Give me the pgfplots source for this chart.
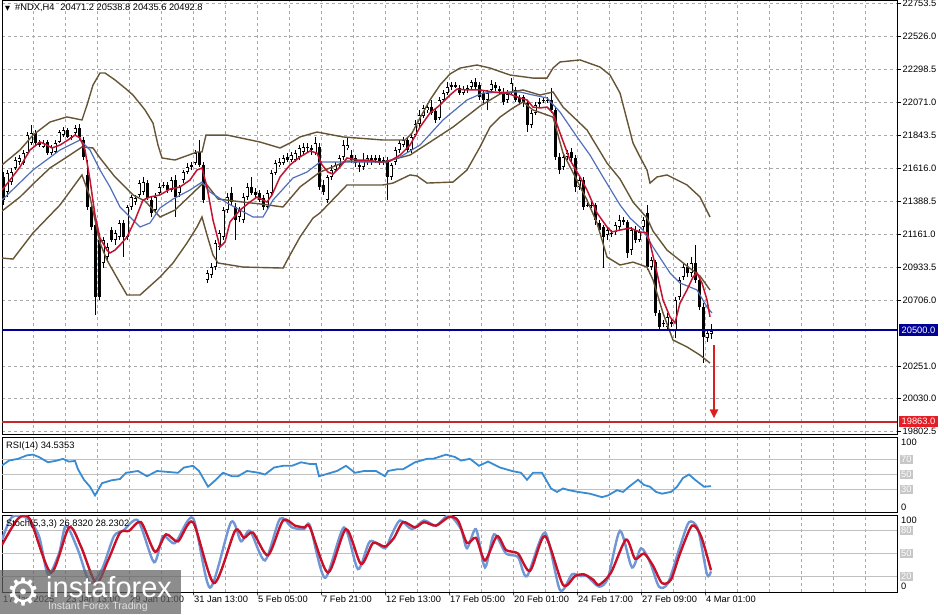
\documentclass[border=0pt]{standalone}
\usepackage{pgfplots}
\pgfplotsset{compat=1.18}
\usepackage{pgfplotstable}
\usepackage{fontspec}
\setmainfont{Liberation Sans}
\newfontfamily\dejavu{DejaVu Sans}
\usetikzlibrary{arrows.meta}
\newcommand\tickfont{\fontsize{9.3}{10}\selectfont}

\definecolor{bbbrown}{RGB}{102,84,52}
\definecolor{mared}{RGB}{196,18,48}
\definecolor{mablue}{RGB}{80,112,188}
\definecolor{rsiblue}{RGB}{58,140,210}
\definecolor{stochK}{RGB}{112,150,212}
\definecolor{stochD}{RGB}{200,16,40}
\definecolor{navyline}{RGB}{0,0,150}
\definecolor{redline}{RGB}{196,40,40}
\definecolor{boxred}{RGB}{228,30,36}
\definecolor{arrowred}{RGB}{220,30,30}
\definecolor{gridgray}{RGB}{170,170,170}
\definecolor{levelgray}{RGB}{192,192,192}

\pgfplotstableread{
i o h l c
0 21554 21588 21361 21395
1 21450 21602 21416 21581
2 21519 21616 21499 21588
3 21616 21692 21602 21671
4 21657 21705 21637 21685
5 21650 21740 21637 21719
6 21719 21864 21705 21843
7 21788 21912 21774 21857
8 21857 21878 21774 21788
9 21795 21809 21761 21774
10 21761 21809 21754 21788
11 21795 21809 21705 21719
12 21719 21774 21705 21761
13 21726 21809 21719 21788
14 21795 21878 21788 21864
15 21843 21898 21830 21878
16 21878 21892 21823 21830
17 21830 21843 21809 21826
18 21857 21912 21843 21892
19 21892 21919 21809 21830
20 21809 21830 21671 21692
21 21568 21671 21326 21347
22 21347 21361 21188 21209
23 21223 21244 20602 20726
24 21119 21168 20706 20726
25 20961 21140 20926 21119
26 21002 21099 20967 21071
27 21188 21209 21106 21119
28 21119 21188 21085 21168
29 21140 21257 21119 21237
30 21237 21257 21002 21140
31 21140 21361 21119 21347
32 21347 21430 21326 21416
33 21381 21430 21361 21409
34 21430 21533 21416 21512
35 21450 21554 21430 21519
36 21512 21533 21395 21409
37 21395 21416 21278 21306
38 21326 21443 21306 21416
39 21443 21512 21430 21485
40 21499 21519 21478 21492
41 21499 21519 21443 21464
42 21464 21554 21450 21533
43 21533 21568 21278 21416
44 21443 21499 21416 21485
45 21533 21602 21512 21588
46 21588 21650 21574 21623
47 21623 21657 21602 21637
48 21650 21740 21637 21719
49 21726 21809 21623 21637
50 21637 21657 21375 21395
51 20844 20912 20823 20892
52 20878 20961 20857 20933
53 20933 21119 20912 21099
54 21071 21188 21050 21168
55 21140 21347 21119 21326
56 21326 21443 21306 21416
57 21443 21485 21361 21381
58 21347 21375 21119 21257
59 21278 21347 21244 21326
60 21257 21443 21237 21416
61 21416 21512 21395 21485
62 21485 21554 21430 21443
63 21450 21478 21409 21430
64 21443 21464 21381 21395
65 21409 21430 21326 21347
66 21347 21464 21326 21443
67 21443 21602 21430 21581
68 21581 21671 21568 21650
69 21637 21685 21623 21657
70 21650 21705 21637 21685
71 21692 21719 21657 21671
72 21671 21726 21657 21705
73 21671 21740 21657 21719
74 21692 21774 21671 21754
75 21726 21788 21705 21761
76 21761 21788 21726 21754
77 21754 21774 21705 21740
78 21719 21830 21705 21788
79 21761 21788 21464 21485
80 21499 21533 21430 21450
81 21395 21568 21375 21554
82 21554 21637 21533 21602
83 21602 21657 21588 21637
84 21637 21705 21623 21685
85 21692 21809 21671 21774
86 21754 21830 21740 21774
87 21705 21740 21650 21671
88 21685 21705 21623 21650
89 21637 21671 21588 21623
90 21623 21719 21602 21671
91 21657 21705 21637 21685
92 21685 21705 21637 21657
93 21671 21705 21650 21685
94 21685 21705 21637 21657
95 21671 21692 21637 21657
96 21671 21692 21395 21554
97 21554 21650 21533 21637
98 21657 21761 21637 21740
99 21740 21809 21719 21788
100 21774 21830 21761 21809
101 21809 21830 21719 21740
102 21740 21857 21719 21830
103 21843 21947 21830 21919
104 21919 22016 21898 21981
105 21974 22050 21961 22030
106 22016 22064 21995 22036
107 22036 22085 21981 21995
108 22009 22030 21926 21947
109 21961 22105 21947 22085
110 22085 22154 22071 22133
111 22133 22209 22119 22174
112 22174 22209 22154 22188
113 22188 22209 22167 22181
114 22167 22188 22119 22133
115 22133 22181 22119 22160
116 22154 22188 22133 22167
117 22174 22223 22154 22209
118 22209 22236 22154 22174
119 22188 22209 22085 22105
120 22133 22154 22064 22085
121 22085 22154 22016 22133
122 22154 22223 22133 22195
123 22188 22209 22147 22167
124 22160 22181 22119 22147
125 22140 22167 22050 22071
126 22085 22154 22064 22126
127 22133 22236 22119 22202
128 22154 22174 22071 22085
129 22099 22119 22050 22071
130 22105 22119 22036 22064
131 22064 22085 21864 21912
132 21912 22016 21892 21995
133 21995 22071 21981 22050
134 22064 22099 22036 22071
135 22078 22105 22064 22085
136 22085 22105 22064 22078
137 22085 22167 21995 22016
138 22016 22036 21671 21692
139 21692 21719 21574 21602
140 21623 21719 21602 21692
141 21692 21740 21671 21719
142 21726 21754 21657 21685
143 21685 21705 21450 21485
144 21485 21568 21464 21533
145 21533 21554 21326 21347
146 21361 21375 21347 21357
147 21361 21381 21340 21357
148 21361 21375 21223 21257
149 21237 21257 21168 21188
150 21209 21223 20926 21140
151 21154 21209 21119 21188
152 21168 21188 21140 21164
153 21175 21244 21154 21223
154 21209 21292 21188 21257
155 21257 21278 21223 21250
156 21244 21257 20995 21030
157 21050 21209 21016 21188
158 21188 21216 21099 21119
159 21119 21195 21106 21175
160 21209 21278 21188 21257
161 21306 21361 20912 20933
162 20933 21002 20912 20981
163 20967 20981 20595 20616
164 20616 20637 20499 20520
165 20547 20568 20520 20544
166 20520 20616 20499 20589
167 20554 20582 20520 20540
168 20499 20726 20444 20706
169 20726 20864 20706 20844
170 20864 20961 20844 20933
171 20933 20961 20864 20892
172 20892 21002 20864 20961
173 20961 21085 20823 20844
174 20844 20864 20637 20657
175 20657 20685 20271 20451
176 20444 20499 20416 20478
177 20471.2 20538.8 20435.6 20492.8
}\candles

\pgfplotstableread{
i p
-0.25 21464
1.75 21533
4.25 21623
6.75 21740
9.25 21795
11 21774
12.25 21754
14.25 21774
16.25 21809
18 21843
19.25 21823
20.5 21740
21.75 21533
23 21292
24.25 21133
26 21050
26.75 21030
28 21050
29.25 21085
31 21140
33 21257
35 21395
36.75 21416
39.25 21430
41.75 21471
44.25 21485
46.75 21533
48.5 21602
49.75 21616
51 21485
52.5 21257
54.25 21071
55.5 21106
56.75 21244
59.25 21326
61.75 21381
63.5 21416
65 21395
66 21381
67.25 21430
69.25 21554
71.75 21637
74.25 21692
76.75 21733
78.5 21719
79.75 21637
81.25 21588
82.5 21574
84.25 21623
86 21685
88.5 21671
91 21671
94.25 21657
96.75 21664
99.25 21705
101.75 21774
104.25 21898
106.75 21995
109.25 22050
111.75 22119
113.5 22160
116 22154
119.25 22154
122.5 22140
126 22133
129.25 22099
131 22085
132.5 22036
134.25 22030
136 22036
137.5 21995
139.25 21857
141.75 21671
144.25 21554
146 21464
148.5 21306
151 21209
152.25 21175
154.25 21188
156.75 21202
159.25 21175
161 21168
161.75 21099
163.5 20892
165 20706
166.75 20589
168 20547
169.25 20685
171 20775
172.5 20864
173.5 20892
174.75 20823
176 20706
176.75 20589
}\mared

\pgfplotstableread{
i p
-0.25 21395
7.5 21602
14.25 21740
19.25 21809
21.75 21740
24.25 21602
26.75 21485
29.25 21347
32.5 21257
34.25 21209
36.75 21237
39.25 21340
42.5 21402
46.75 21464
49.75 21519
51.75 21450
56 21375
59.25 21326
62.5 21278
65 21278
67.5 21395
72.5 21547
76 21588
79.25 21657
84.25 21657
91 21657
96 21657
99.25 21692
104.25 21774
110 21947
116 22085
120 22133
126.75 22140
129.25 22140
132.5 22119
136 22099
139.25 22002
143.5 21830
146.75 21705
150 21554
154.25 21361
156.75 21271
160 21188
162.5 21071
166.75 20892
169.25 20823
171.75 20795
173.5 20775
176 20657
177.25 20616
}\mablue

\pgfplotstableread{
i p
-0.25 21637
4.25 21740
7.5 21843
11.75 21933
16 21968
19.75 21947
21 22050
22.5 22188
24.25 22271
25.5 22271
28 22223
30.5 22167
32.5 22119
35.5 22016
37.5 21926
38.75 21774
39.75 21685
43 21671
48.5 21726
49.75 21726
50.75 21843
56 21843
64.25 21795
69.25 21754
71.75 21788
74.25 21830
78.5 21864
85 21830
95 21809
100.5 21809
102.25 21857
104.25 21961
106.75 22085
109.25 22188
111.75 22264
114.25 22305
118.5 22326
121.75 22305
126.75 22257
132.5 22236
136 22236
137.5 22305
139.25 22347
144.25 22361
149.25 22312
151.75 22257
154.25 22133
156 21947
157.5 21788
159.25 21692
161 21602
161.75 21512
163.5 21554
166 21568
171 21499
174.25 21416
176.75 21278
}\bbup

\pgfplotstableread{
i p
-0.25 21319
4.25 21416
7.5 21505
11.75 21616
16 21692
19.75 21761
22.5 21754
24.25 21685
28 21554
32.5 21430
35.5 21388
39.25 21278
43 21326
48.5 21471
49.75 21505
51 21499
53.75 21402
60 21381
64.25 21368
70 21347
74.25 21485
79.25 21588
86 21664
95 21657
101.75 21705
106 21781
112.5 21898
119.25 22043
124.25 22126
130 22154
134.25 22119
137.5 22140
140 22036
146 21878
151 21650
154.25 21540
157.5 21381
161 21271
162.5 21181
166 21050
171 20940
174.25 20871
176.75 20775
}\bbmid

\pgfplotstableread{
i p
-0.25 20995
2.5 20988
7.5 21168
14.25 21361
19.75 21568
21.75 21416
24.25 21099
26 20981
29.25 20823
31 20740
34.25 20740
39.25 20864
42.5 20961
46 21099
48.5 21209
49.75 21278
51 21154
52.5 21016
53.75 20961
60 20933
70 20926
71.75 21016
74.25 21140
77.5 21271
79.25 21306
86 21499
95 21499
97.5 21512
101.75 21568
103.5 21561
106 21512
112.5 21519
116 21602
119.25 21761
121.75 21898
124.25 21967
127.5 22030
130 22071
132.5 22016
137.5 21967
140 21719
146 21395
148.5 21237
151 21002
154.25 20947
157.5 20967
161 20933
162.5 20844
165 20616
167.5 20430
171 20382
174.25 20326
176.75 20271
}\bblow

\pgfplotstableread{
i v
-0.25 62
1.5 68.6
3.75 70.9
6 75.6
7.5 76.5
9 73.3
11.25 66.3
13.5 68.6
15 70.9
16.5 67.2
18 68.1
18.75 57
20.25 43
21.75 33.7
23 22.1
24.75 38.4
27 42.1
29.25 44
30.75 52.3
33.75 54.7
36 47.7
38.5 54.7
41.5 53.3
43.75 52.3
45.25 59.3
47.5 61.6
49 54.7
51.25 33.7
52.75 40.7
55 52.3
57.25 47.7
58.75 47.7
61 54.7
64 52.3
65.5 50
67.75 59.3
70 61.6
72.25 61.6
74.5 66.3
76.75 64
78.25 64
79 47.7
80.5 50
83.5 54.7
85.75 61.6
88 52.3
90.25 54.7
93.25 54.7
95.5 47.7
96.25 54.7
98.5 57
100 57
103 66.3
104.5 68.6
106 70.9
107.5 70.9
110.75 76.5
113 73.3
114.5 68.6
116.75 70.9
119 61.6
121.25 67.2
124.25 59.3
127.25 54.7
129.5 52.3
131 43
132.5 52.3
134.75 52.3
137 31.4
138.5 26.8
140 31.4
141.5 29.1
143.75 26.8
146.75 24.4
149.75 19.8
151.25 22.1
153.5 29.1
155 26.8
156.5 33.7
158.75 43
160.25 36.1
161.75 33.7
163.25 26.8
164.75 24.4
167 26.8
168.5 33.7
170 45.4
171.5 50
173 43
175.25 33.7
177 34.5
}\rsi

\pgfplotstableread{
i v
-0.25 68
2.25 97.5
6 96
9 72.6
11.25 22.9
14 50
15.75 86.2
18.75 54.5
21.75 11.6
24.75 29.7
27.75 72.6
30 79.4
33.75 92.9
37.75 38.7
40 72.6
43 63.6
47.5 96.1
51.75 5.7
57 90.7
59.5 65.8
61.75 79.4
65.5 41
69.25 95.2
72.25 83.9
75.25 81.6
76.75 86.2
80.5 18.4
85.25 83.9
88.75 29.7
91.75 65.8
95.5 56.8
97 72.6
99.25 92.9
102.25 81.6
105.25 92.9
108.25 86.2
111.5 99.7
114.5 81.6
116 56.8
118.25 81.6
120.5 31.9
122.75 74.9
125.75 50
128.75 45.5
131 20.6
135.5 77.1
139.25 2.5
142.25 22.9
144.5 20.6
146 20.6
149 7
151.25 18.4
154.25 79.4
157.25 31.9
159.5 56.8
161.75 38.7
164 7
166.25 11.6
169.25 59
171.5 90.7
173.75 81.6
176 22.9
177 26.8
}\stk

\pgfplotstableread{
i v
-0.25 61.3
3.75 95.2
6.75 94.3
12 25.1
16.5 83.9
19.5 59
23.25 11.6
26.25 41
29.25 77.1
31.5 79.4
34.5 90.7
38 52.3
40.75 74.9
43.75 65.8
47.5 90.7
52.75 11.6
58 79.4
60.25 70.3
62.5 77.1
66.25 47.7
70 92.9
73 86.2
75.25 83.9
76.75 83.9
81.25 25.1
85.75 81.6
89.5 36.4
92.5 63.6
95.5 59
97.75 70.3
100 90.7
103 83.9
105.25 90.7
108.25 86.2
111.5 97.5
113.75 92.9
116 63.6
118.25 70.3
120.5 41
123.5 72.6
125.75 54.5
128.75 50
131.75 27.4
135.5 72.6
140 9.3
143 20.6
145.25 22.9
147.5 16.1
149 9.3
152 25.1
155.75 68.1
158 43.2
160.25 50
162.5 34.2
164.75 11.6
167 16.1
169.25 50
172.25 86.2
174.5 72.6
177 28.2
}\std

\pgfplotsset{
  panel/.style={
    scale only axis, width=895pt, anchor=north west,
    xmin=-0.25, xmax=223.5,
    clip mode=individual,
    axis line style={black, line width=0.8pt},
    xtick={7.5,15.5,...,215.5}, xticklabels={},
    x tick style={draw=none},
    xmajorgrids,
    major grid style={gridgray, dash pattern=on 3pt off 3pt, line width=0.5pt},
  }
}

\begin{document}
\begin{tikzpicture}
\useasboundingbox (0pt,0pt) rectangle (944pt,-614pt);

% ---------------- main price panel ----------------
\begin{axis}[panel, at={(2pt,0pt)}, height=434pt,
  ymin=19781.8, ymax=22774.2,
  ytick={22753.5,22526,22298.5,22071,21843.5,21616,21388.5,21161,20933.5,20706,20251,20030,19802.5},
  yticklabels={22753.5,22526.0,22298.5,22071.0,21843.5,21616.0,21388.5,21161.0,20933.5,20706.0,20251.0,20030.0,19802.5},
  ymajorgrids, ytick pos=right, yticklabel pos=right,
  tick align=outside, major tick length=3.5pt,
  y tick style={black, line width=0.6pt},
  yticklabel style={font=\tickfont, inner sep=2pt},
]
% wicks
\addplot[draw=none, error bars/.cd, y dir=both, y explicit, error mark=none,
  error bar style={draw=black, line width=0.9pt}]
  table[x=i, y expr={(\thisrow{h}+\thisrow{l})/2}, y error expr={(\thisrow{h}-\thisrow{l})/2}] {\candles};
% bodies
\addplot[draw=none, error bars/.cd, y dir=both, y explicit, error mark=none,
  error bar style={draw=black, line width=3pt}]
  table[x=i, y expr={(\thisrow{o}+\thisrow{c})/2}, y error expr={max(abs(\thisrow{c}-\thisrow{o})/2,3.5)}] {\candles};
% hollow interior of rising candles
\addplot[draw=none, error bars/.cd, y dir=both, y explicit, error mark=none,
  error bar style={draw=white, line width=1.2pt}]
  table[x=i, y expr={(\thisrow{o}+\thisrow{c})/2}, y error expr={ifthenelse(\thisrow{c}>\thisrow{o}, max(abs(\thisrow{c}-\thisrow{o})/2-7,0), 0)}] {\candles};

\addplot[bbbrown, line width=1.4pt] table[x=i,y=p] {\bbup};
\addplot[bbbrown, line width=1.4pt] table[x=i,y=p] {\bbmid};
\addplot[bbbrown, line width=1.4pt] table[x=i,y=p] {\bblow};
\addplot[mablue, line width=1.2pt] table[x=i,y=p] {\mablue};
\addplot[mared, line width=1.5pt] table[x=i,y=p] {\mared};

\addplot[navyline, line width=2.6pt] coordinates {(-0.25,20500) (223.5,20500)};
\addplot[redline, line width=2pt] coordinates {(-0.25,19863) (223.5,19863)};

\draw[arrowred, line width=2.2pt, -{Triangle[length=9pt,width=8pt]}] (axis cs:177.75,20395) -- (axis cs:177.75,19890);

\node[fill=navyline, text=white, font=\tickfont, inner xsep=3pt, inner ysep=2.5pt, anchor=west, xshift=1.5pt] at (axis cs:223.5,20500) {20500.0};
\node[fill=boxred, text=white, font=\tickfont, inner xsep=3pt, inner ysep=2pt, anchor=west, xshift=1.5pt, yshift=1pt] at (axis cs:223.5,19863) {19863.0};
\end{axis}

% ---------------- RSI panel ----------------
\begin{axis}[panel, at={(2pt,-437pt)}, height=75pt, ymin=0, ymax=100, ytick=\empty]
\addplot[levelgray, line width=0.8pt] coordinates {(-0.25,70) (223.5,70)};
\addplot[levelgray, line width=0.8pt] coordinates {(-0.25,50) (223.5,50)};
\addplot[levelgray, line width=0.8pt] coordinates {(-0.25,30) (223.5,30)};
\addplot[rsiblue, line width=1.8pt] table[x=i,y=v] {\rsi};
\node[anchor=north west, font=\tickfont, inner sep=0pt, xshift=4pt, yshift=-1.5pt] at (axis cs:223.5,100) {100};
\node[anchor=south west, font=\tickfont, inner sep=0pt, xshift=4pt, yshift=1.5pt] at (axis cs:223.5,0) {0};
\node[fill=black!22, text=white, font=\tickfont, inner xsep=1.5pt, inner ysep=1pt, anchor=west, xshift=2.5pt] at (axis cs:223.5,70) {70};
\node[fill=black!22, text=white, font=\tickfont, inner xsep=1.5pt, inner ysep=1pt, anchor=west, xshift=2.5pt] at (axis cs:223.5,50) {50};
\node[fill=black!22, text=white, font=\tickfont, inner xsep=1.5pt, inner ysep=1pt, anchor=west, xshift=2.5pt] at (axis cs:223.5,30) {30};
\end{axis}

% ---------------- Stochastic panel ----------------
\begin{axis}[panel, at={(2pt,-515pt)}, height=77pt, ymin=0, ymax=100, ytick=\empty]
\addplot[levelgray, line width=0.8pt] coordinates {(-0.25,80) (223.5,80)};
\addplot[levelgray, line width=0.8pt] coordinates {(-0.25,50) (223.5,50)};
\addplot[levelgray, line width=0.8pt] coordinates {(-0.25,20) (223.5,20)};
\addplot[stochK, line width=2.4pt, smooth, tension=0.45] table[x=i,y=v] {\stk};
\addplot[stochD, line width=2.4pt, smooth, tension=0.45] table[x=i,y=v] {\std};
\node[anchor=north west, font=\tickfont, inner sep=0pt, xshift=4pt, yshift=-2pt] at (axis cs:223.5,100) {100};
\node[anchor=south west, font=\tickfont, inner sep=0pt, xshift=4pt, yshift=2pt] at (axis cs:223.5,0) {0};
\node[fill=black!22, text=white, font=\tickfont, inner xsep=1.5pt, inner ysep=1pt, anchor=west, xshift=2.5pt] at (axis cs:223.5,80) {80};
\node[fill=black!22, text=white, font=\tickfont, inner xsep=1.5pt, inner ysep=1pt, anchor=west, xshift=2.5pt] at (axis cs:223.5,50) {50};
\node[fill=black!22, text=white, font=\tickfont, inner xsep=1.5pt, inner ysep=1pt, anchor=west, xshift=2.5pt] at (axis cs:223.5,20) {20};
% date axis
\draw[black, line width=0.6pt] (axis cs:15.5,0) -- ++(0,-3.5pt);
\draw[black, line width=0.6pt] (axis cs:31.5,0) -- ++(0,-3.5pt);
\draw[black, line width=0.6pt] (axis cs:47.5,0) -- ++(0,-3.5pt);
\draw[black, line width=0.6pt] (axis cs:63.5,0) -- ++(0,-3.5pt);
\draw[black, line width=0.6pt] (axis cs:79.5,0) -- ++(0,-3.5pt);
\draw[black, line width=0.6pt] (axis cs:95.5,0) -- ++(0,-3.5pt);
\draw[black, line width=0.6pt] (axis cs:111.5,0) -- ++(0,-3.5pt);
\draw[black, line width=0.6pt] (axis cs:127.5,0) -- ++(0,-3.5pt);
\draw[black, line width=0.6pt] (axis cs:143.5,0) -- ++(0,-3.5pt);
\draw[black, line width=0.6pt] (axis cs:159.5,0) -- ++(0,-3.5pt);
\draw[black, line width=0.6pt] (axis cs:175.5,0) -- ++(0,-3.5pt);
\node[anchor=north west, font=\tickfont, inner sep=0pt, xshift=1pt, yshift=-4pt] at (axis cs:-0.25,0) {17 Jan 2025};
\node[anchor=north west, font=\tickfont, inner sep=0pt, xshift=1pt, yshift=-4pt] at (axis cs:15.5,0) {23 Jan 13:00};
\node[anchor=north west, font=\tickfont, inner sep=0pt, xshift=1pt, yshift=-4pt] at (axis cs:31.5,0) {29 Jan 01:00};
\node[anchor=north west, font=\tickfont, inner sep=0pt, xshift=1pt, yshift=-4pt] at (axis cs:47.5,0) {31 Jan 13:00};
\node[anchor=north west, font=\tickfont, inner sep=0pt, xshift=1pt, yshift=-4pt] at (axis cs:63.5,0) {5 Feb 05:00};
\node[anchor=north west, font=\tickfont, inner sep=0pt, xshift=1pt, yshift=-4pt] at (axis cs:79.5,0) {7 Feb 21:00};
\node[anchor=north west, font=\tickfont, inner sep=0pt, xshift=1pt, yshift=-4pt] at (axis cs:95.5,0) {12 Feb 13:00};
\node[anchor=north west, font=\tickfont, inner sep=0pt, xshift=1pt, yshift=-4pt] at (axis cs:111.5,0) {17 Feb 05:00};
\node[anchor=north west, font=\tickfont, inner sep=0pt, xshift=1pt, yshift=-4pt] at (axis cs:127.5,0) {20 Feb 01:00};
\node[anchor=north west, font=\tickfont, inner sep=0pt, xshift=1pt, yshift=-4pt] at (axis cs:143.5,0) {24 Feb 17:00};
\node[anchor=north west, font=\tickfont, inner sep=0pt, xshift=1pt, yshift=-4pt] at (axis cs:159.5,0) {27 Feb 09:00};
\node[anchor=north west, font=\tickfont, inner sep=0pt, xshift=1pt, yshift=-4pt] at (axis cs:175.5,0) {4 Mar 01:00};
\end{axis}

% ---------------- panel titles ----------------
\node[anchor=base west, inner sep=0pt, font=\tickfont] at (5pt,-10.5pt)
  {{\dejavu\fontsize{6.5}{7}\selectfont ▼}\hspace{5pt}\#NDX,H4\hspace{6pt}20471.2 20538.8 20435.6 20492.8};
\node[anchor=base west, inner sep=0pt, font=\tickfont] at (6pt,-448pt) {RSI(14) 34.5353};
\node[anchor=base west, inner sep=0pt, font=\tickfont] at (6pt,-526pt) {Stoch(5,3,3) 26.8320 28.2302};

% ---------------- logo ----------------
\fill[black!62, fill opacity=0.72] (0pt,-570pt) rectangle (181pt,-614pt);
\node[text=white, font=\dejavu\fontsize{38}{38}\selectfont, inner sep=0pt] at (24pt,-592pt) {⚙};
\node[anchor=base west, text=white, font=\fontsize{29}{29}\selectfont, inner sep=0pt] at (46pt,-597pt) {instaforex};
\node[anchor=base west, text=white!88!black, font=\fontsize{10.5}{11}\selectfont, inner sep=0pt] at (48pt,-609.5pt) {Instant Forex Trading};
\end{tikzpicture}
\end{document}
